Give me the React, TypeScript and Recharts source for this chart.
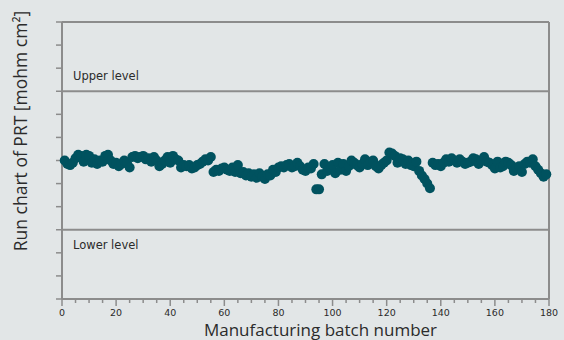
import React from "react";
import {
  ScatterChart,
  Scatter,
  XAxis,
  YAxis,
  ReferenceLine,
} from "recharts";

// batch numbers 1..179 and the PRT run values
const batches = [
  1, 2, 3, 4, 5, 6, 7, 8, 9, 10, 11, 12, 13, 14, 15, 16, 17, 18, 19, 20,
  21, 22, 23, 24, 25, 26, 27, 28, 29, 30, 31, 32, 33, 34, 35, 36, 37, 38, 39, 40,
  41, 42, 43, 44, 45, 46, 47, 48, 49, 50, 51, 52, 53, 54, 55, 56, 57, 58, 59, 60,
  61, 62, 63, 64, 65, 66, 67, 68, 69, 70, 71, 72, 73, 74, 75, 76, 77, 78, 79, 80,
  81, 82, 83, 84, 85, 86, 87, 88, 89, 90, 91, 92, 93, 94, 95, 96, 97, 98, 99, 100,
  101, 102, 103, 104, 105, 106, 107, 108, 109, 110, 111, 112, 113, 114, 115, 116, 117, 118, 119, 120,
  121, 122, 123, 124, 125, 126, 127, 128, 129, 130, 131, 132, 133, 134, 135, 136, 137, 138, 139, 140,
  141, 142, 143, 144, 145, 146, 147, 148, 149, 150, 151, 152, 153, 154, 155, 156, 157, 158, 159, 160,
  161, 162, 163, 164, 165, 166, 167, 168, 169, 170, 171, 172, 173, 174, 175, 176, 177, 178, 179,
];

const prtValues = [
  6.0, 5.85, 5.8, 5.9, 6.1, 6.25, 6.2, 5.95, 6.25, 6.2,
  5.9, 6.05, 5.85, 6.0, 5.95, 6.2, 6.25, 6.0, 5.85, 5.9,
  5.75, 5.85, 6.0, 5.9, 5.7, 6.15, 6.2, 6.1, 6.15, 6.2,
  6.05, 6.1, 5.95, 6.15, 6.0, 5.75, 5.85, 6.0, 6.15, 5.9,
  6.2, 6.05, 6.0, 5.7, 5.8, 5.75, 5.8, 5.65, 5.7, 5.8,
  5.85, 5.95, 6.05, 6.0, 6.15, 5.5, 5.6, 5.55, 5.65, 5.7,
  5.6, 5.55, 5.7, 5.5, 5.8, 5.45, 5.5, 5.35, 5.45, 5.3,
  5.4, 5.25, 5.45, 5.3, 5.2, 5.4, 5.35, 5.6, 5.5, 5.7,
  5.75, 5.7, 5.8, 5.85, 5.7, 5.75, 5.9, 5.75, 5.6, 5.55,
  5.7, 5.65, 5.85, 4.75, 4.75, 5.4, 5.85, 5.55, 5.65, 5.8,
  5.45, 5.9, 5.6, 5.85, 5.55, 5.75, 6.0, 5.9, 5.8, 5.7,
  5.85, 6.05, 5.8, 5.95, 6.0, 5.75, 5.65, 5.8, 5.9, 6.0,
  6.35, 6.3, 6.2, 5.9, 6.1, 6.05, 5.85, 6.0, 5.8, 5.75,
  5.95, 5.55, 5.35, 5.2, 5.0, 4.8, 5.9, 5.8, 5.85, 5.75,
  5.9, 6.05, 5.95, 6.1, 6.0, 5.9, 6.05, 5.95, 5.85, 5.9,
  5.95, 6.1, 6.05, 5.85, 6.0, 6.15, 5.95, 5.9, 5.8, 5.65,
  5.95, 5.7, 5.75, 5.95, 5.9, 5.8, 5.55, 5.7, 5.75, 5.5,
  5.85, 5.95, 5.9, 6.05, 5.75, 5.6, 5.45, 5.3, 5.4,
];

const xTicks = [
  0, 5, 10, 15, 20, 25, 30, 35, 40, 45, 50, 55, 60, 65, 70, 75, 80, 85, 90,
  95, 100, 105, 110, 115, 120, 125, 130, 135, 140, 145, 150, 155, 160, 165,
  170, 175, 180,
];
const yTicks = [0, 1, 2, 3, 4, 5, 6, 7, 8, 9, 10, 11, 12];

const UPPER_LEVEL = 9;
const LOWER_LEVEL = 3;

const BG = "#e2e6e7";
const AXIS = "#8c8c8c";
const DOT = "#00525f";
const TEXT = "#2b2b2b";

const data = batches.map((b, i) => ({ batch: b, prt: prtValues[i] }));

function BatchTick(props: any) {
  const { x, y, payload } = props;
  const major = payload.value % 20 === 0;
  return (
    <g>
      <line x1={x} x2={x} y1={y} y2={y + (major ? 7 : 4)} stroke={AXIS} strokeWidth={1.5} />
      {major && (
        <text
          x={x}
          y={y + 17}
          textAnchor="middle"
          fontSize={9.5}
          fontFamily="DejaVu Sans, sans-serif"
          fill={TEXT}
        >
          {payload.value}
        </text>
      )}
    </g>
  );
}

const dotShape = (p: any) => <circle cx={p.cx} cy={p.cy} r={5} fill={DOT} />;

export default function App() {
  return (
    <div
      style={{
        position: "absolute",
        left: 0,
        top: 0,
        width: 564,
        height: 340,
        background: BG,
      }}
    >
      <ScatterChart
        width={564}
        height={340}
        margin={{ top: 22, right: 15, bottom: 0, left: 0 }}
      >
        <XAxis
          type="number"
          dataKey="batch"
          domain={[0, 180]}
          ticks={xTicks}
          interval={0}
          height={41}
          axisLine={{ stroke: AXIS, strokeWidth: 2 }}
          tickLine={false}
          tickSize={0}
          tickMargin={0}
          tick={<BatchTick />}
          label={{
            content: (p: any) => {
              const vb = p.viewBox || {};
              return (
                <text
                  x={vb.x + vb.width / 2 + 15}
                  y={vb.y + 37}
                  textAnchor="middle"
                  fontSize={17}
                  fontFamily="Open Sans, sans-serif"
                  fill={TEXT}
                >
                  Manufacturing batch number
                </text>
              );
            },
          }}
        />
        <YAxis
          type="number"
          dataKey="prt"
          domain={[0, 12]}
          ticks={yTicks}
          interval={0}
          width={62}
          axisLine={{ stroke: AXIS, strokeWidth: 2 }}
          tickLine={{ stroke: AXIS, strokeWidth: 1.5 }}
          tickSize={6}
          tickFormatter={() => ""}
          label={{
            content: () => (
              <text
                x={20}
                y={131}
                transform="rotate(-90 20 131)"
                textAnchor="middle"
                dominantBaseline="central"
                fontSize={17.5}
                fontFamily="Open Sans, sans-serif"
                fill={TEXT}
              >
                Run chart of PRT [mohm cm²]
              </text>
            ),
          }}
        />
        <ReferenceLine y={12} stroke={AXIS} strokeWidth={2} />
        <ReferenceLine x={180} stroke={AXIS} strokeWidth={2} />
        <ReferenceLine
          y={UPPER_LEVEL}
          stroke={AXIS}
          strokeWidth={2}
          label={{
            value: "Upper level",
            position: "insideBottomLeft",
            offset: 11,
            fontSize: 11.5,
            fontFamily: "DejaVu Sans, sans-serif",
            fill: TEXT,
          }}
        />
        <ReferenceLine
          y={LOWER_LEVEL}
          stroke={AXIS}
          strokeWidth={2}
          label={{
            value: "Lower level",
            position: "insideTopLeft",
            offset: 11,
            fontSize: 11.5,
            fontFamily: "DejaVu Sans, sans-serif",
            fill: TEXT,
          }}
        />
        <Scatter data={data} fill={DOT} shape={dotShape} isAnimationActive={false} />
      </ScatterChart>
    </div>
  );
}
